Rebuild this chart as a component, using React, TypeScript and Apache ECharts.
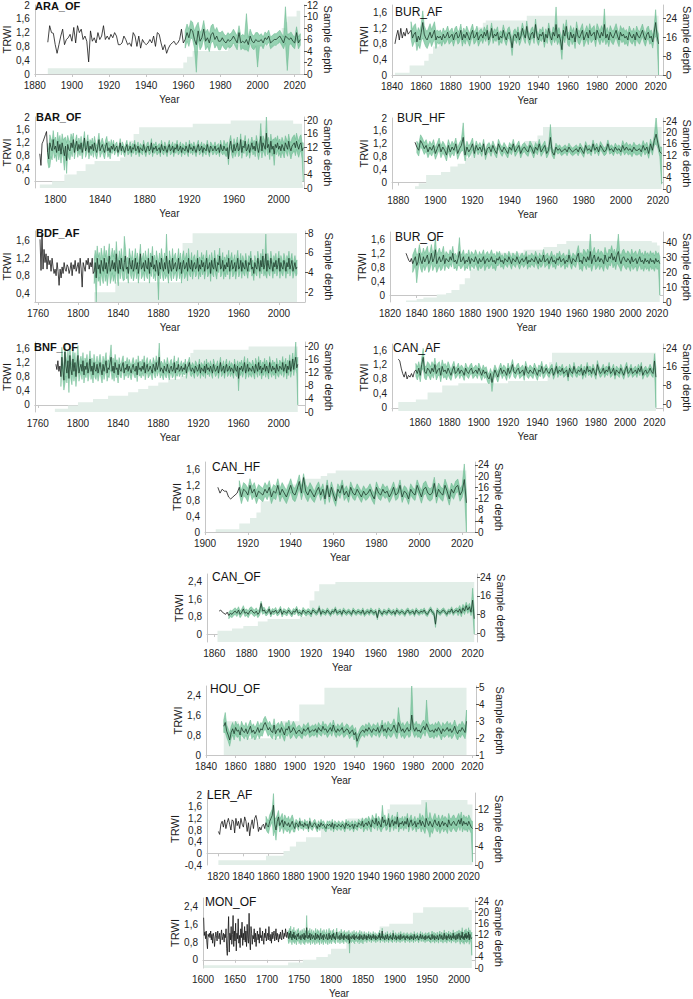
import React, { useEffect, useRef } from 'react';
import * as echarts from 'echarts';

// ---------------- DATA (TRWI x100, half-widths x100, sample depth) ----------------
const ARA_START = 1887;
const ARA_MEAN = [92,140,120,118,85,60,85,110,130,85,100,105,115,95,135,90,140,120,130,100,110,95,35,125,95,105,90,120,100,110,140,100,110,100,115,105,120,110,85,85,90,110,100,85,90,80,120,110,80,110,75,100,90,85,90,100,90,110,80,120,115,90,70,85,60,75,85,90,95,85,90,100,130,90,100,120,105,130,125,100,85,125,95,105,130,95,105,90,115,120,100,110,95,95,105,95,90,100,95,100,110,100,90,120,90,95,90,100,85,110,95,90,100,95,95,100,90,105,100,110,90,95,100,100,105,110,100,90,110,105,100,105,95,90,120,90,100];
const ARA_BAND_FROM = 1961;
const ARA_HALF = [[1961,25],[1981,20],[2001,17]];
const ARA_PEAKS = [[1967,5,140],[1994,70,175],[2000,20,120],[2015,90,195],[2016,10,115]];
const ARA_DEPTH = [[1887,1],[1960,2],[1962,3],[1965,4],[1984,5],[2011,6],[2013,8],[2015,9],[2016,10],[2021,11],[2023,11]];

const BURAF_START = 1842;
const BURAF_MEAN = [80,100,115,90,120,95,110,100,120,105,110,115,95,105,110,85,100,90,110,135,105,95,90,100,110,95,105,115,90,100,95,100,90,105,95,100,110,95,100,105,90,105,110,95,100,115,90,105,95,110,100,90,105,115,95,100,110,90,100,105,95,110,100,115,90,100,120,95,105,100,110,90,100,95,115,100,90,105,110,95,70,100,105,95,110,90,100,120,105,95,125,100,90,105,110,95,130,100,90,105,100,110,85,105,95,120,100,90,110,100,130,95,105,90,65,115,100,125,95,90,110,95,105,85,120,100,95,105,115,90,100,110,95,115,100,105,110,90,115,105,95,110,100,130,95,105,90,110,100,95,105,115,100,90,110,100,105,95,100,90,110,100,95,105,90,110,100,95,105,115,100,90,105,110,95,100,85,110,135,100,80];
const BURAF_BAND_FROM = 1853;
const BURAF_HALF = [[1853,22],[1871,16],[1901,14],[1951,17],[2001,16]];
const BURAF_PEAKS = [[1861,95,165],[1922,50,90],[1952,95,175],[1956,40,95],[1985,95,170],[2020,100,168],[2022,0,105]];
const BURAF_DEPTH = [[1842,1],[1852,4],[1862,6],[1865,9],[1868,12],[1872,14],[1875,16],[1880,17],[1890,18],[1898,20],[1902,22],[1904,23],[1932,25],[2022,25]];

const BAR_START = 1786;
const BAR_MEAN = [86,50,117,125,135,145,155,90,70,120,105,95,130,100,110,90,125,95,115,85,120,100,80,110,65,115,100,95,120,105,130,90,110,125,95,115,100,120,90,110,135,95,105,125,90,110,100,115,95,120,100,90,110,130,95,105,115,100,90,110,120,95,105,90,110,100,115,95,105,110,90,100,120,95,110,100,90,105,115,95,100,110,90,105,100,115,95,100,110,90,105,100,95,115,100,90,105,110,95,100,120,90,105,100,110,95,100,105,90,115,100,95,110,100,90,105,115,95,100,110,90,105,100,115,95,100,110,90,105,100,95,110,100,90,115,100,105,95,110,100,90,105,115,95,100,110,90,105,100,95,115,100,90,110,105,95,100,110,95,100,105,90,115,100,95,110,100,95,105,70,110,125,100,90,115,95,105,120,95,100,130,90,110,105,125,95,100,115,90,105,120,100,110,95,125,105,90,110,140,95,120,110,100,150,105,115,90,125,100,110,85,115,105,120,100,110,95,115,105,95,120,110,100,125,105,95,110,115,120,105,125,110,100,115,120,95,105];
const BAR_BAND_FROM = 1793;
const BAR_HALF = [[1793,28],[1816,20],[1851,13],[1951,18],[1981,22],[2011,25]];
const BAR_PEAKS = [[1795,45,145],[1808,35,135],[1810,25,120],[1984,100,180],[1989,110,205],[1996,50,130],[2022,0,120]];
const BAR_DEPTH = [[1786,1],[1797,2],[1808,4],[1819,5],[1827,7],[1835,8],[1858,9],[1862,11],[1866,14],[1870,16],[1875,18],[1923,19],[1957,20],[2013,19],[2021,1],[2022,1]];

const BURHF_START = 1889;
const BURHF_MEAN = [125,110,100,130,120,105,115,95,110,100,115,90,105,120,95,110,100,85,115,95,110,100,120,90,105,115,140,85,110,95,105,120,90,115,100,110,95,120,85,105,110,95,115,100,90,120,105,95,110,100,90,110,100,120,95,105,115,90,105,110,100,95,115,105,90,110,100,120,95,105,115,90,100,140,95,85,110,100,105,95,100,105,95,110,100,95,100,105,95,110,100,90,115,100,105,95,120,100,110,95,115,105,95,100,120,100,105,95,110,100,105,95,115,100,110,100,105,95,110,100,100,105,95,115,100,110,90,120,100,130,150,120,95,90];
const BURHF_BAND_FROM = 1890;
const BURHF_HALF = [[1890,18],[1921,14],[1961,12],[2001,15]];
const BURHF_PEAKS = [[1915,100,185],[1962,110,180],[2019,120,205],[2022,-5,110]];
const BURHF_DEPTH = [[1889,1],[1891,2],[1895,5],[1903,6],[1908,8],[1912,9],[1916,11],[1919,13],[1940,15],[1948,17],[1955,19],[1958,22],[2022,22]];

const BDF_START = 1762;
const BDF_MEAN = [163,92,175,95,140,110,130,95,125,105,115,90,120,100,85,95,80,110,90,58,95,75,100,85,110,95,90,105,100,85,95,110,80,105,95,115,90,100,110,85,120,95,54,110,100,90,115,105,120,95,110,100,120,85,90,110,75,120,95,105,85,115,100,90,120,95,110,85,105,125,90,100,115,95,110,90,130,100,85,115,95,120,100,90,110,125,95,100,85,120,105,95,115,90,100,120,95,110,85,105,130,95,100,110,90,115,100,95,120,85,110,100,125,95,105,90,115,100,80,110,95,120,100,90,110,95,125,100,85,115,100,90,120,95,105,110,90,100,120,95,110,85,105,115,95,100,110,90,120,100,95,115,90,105,110,95,100,120,90,105,95,115,100,110,90,105,120,95,100,110,85,115,100,95,120,100,90,110,105,125,95,100,115,90,105,95,110,100,120,90,105,115,95,100,110,90,105,120,95,100,115,90,110,100,95,115,100,90,110,105,120,95,100,85,110,100,95,120,105,90,115,100,125,95,105,130,90,115,100,95,120,105,90,110,100,115,95,105,120,90,110,100,95,115,105,90,110,100,120,95,105,115,90,100,110,95,100];
const BDF_BAND_FROM = 1816;
const BDF_HALF = [[1816,28],[1841,22],[1911,18],[1961,16]];
const BDF_PEAKS = [[1818,20,120],[1846,70,170],[1880,25,110],[1888,80,175],[1987,80,175]];
const BDF_DEPTH = [[1816,2],[1837,3],[1904,7],[1914,8],[2018,8]];

const BUROF_START = 1832;
const BUROF_MEAN = [120,110,100,95,105,90,100,110,85,95,120,100,90,110,95,105,115,90,100,120,95,105,130,90,100,110,95,100,115,90,105,100,95,110,100,120,95,100,90,105,125,95,100,110,90,100,95,110,90,105,100,95,110,100,90,105,95,100,110,90,100,105,95,100,110,95,100,90,105,100,110,95,100,90,105,100,95,110,100,90,105,100,95,110,100,90,100,105,95,100,110,90,100,95,105,100,95,110,100,90,105,95,100,115,95,100,105,90,100,110,95,100,90,105,100,110,95,100,105,90,100,95,115,100,90,105,100,95,110,120,95,100,90,110,105,95,110,100,125,90,105,115,95,100,110,95,105,100,90,115,100,95,110,105,120,100,110,95,115,125,100,90,105,110,100,95,105,100,90,110,95,100,105,90,100,110,95,100,90,105,95,100,90,105,95,100,90,105,95,100,90];
const BUROF_BAND_FROM = 1837;
const BUROF_HALF = [[1837,25],[1861,20],[1901,16],[1961,22]];
const BUROF_PEAKS = [[1840,35,115],[1854,85,165],[1872,85,165],[1970,85,175],[1991,85,175],[2022,0,110]];
const BUROF_DEPTH = [[1832,1],[1840,2],[1845,3],[1855,5],[1862,6],[1866,8],[1872,12],[1876,16],[1880,22],[1884,28],[1888,31],[1900,33],[1920,35],[1935,37],[1945,39],[1952,41],[2016,40],[2020,38],[2022,38]];

const BNF_START = 1778;
const BNF_MEAN = [115,100,125,95,110,80,135,100,70,150,110,90,125,75,140,100,85,130,95,120,80,110,140,90,105,115,95,125,85,110,100,120,90,105,130,95,110,85,120,100,95,115,90,105,120,100,85,115,95,110,125,90,105,100,120,135,95,110,90,120,100,105,85,115,100,95,110,120,90,105,100,115,95,110,100,90,105,115,100,95,110,85,120,100,105,95,110,100,120,90,105,115,95,100,110,100,90,115,105,95,120,100,110,135,95,105,100,90,110,100,95,115,100,90,105,110,95,100,120,90,105,100,115,95,100,110,95,105,100,115,90,105,110,120,100,95,105,100,90,110,105,95,100,115,90,105,100,95,110,90,115,100,105,95,110,100,90,115,105,95,100,110,90,105,120,95,100,110,90,105,115,95,100,110,95,105,100,90,115,100,95,110,75,105,100,110,95,105,120,90,100,115,95,105,100,95,110,100,90,115,105,95,120,100,110,90,105,100,115,95,110,100,90,120,105,95,110,100,105,90,115,100,95,110,105,100,120,95,105,115,90,110,100,125,95,110,130,100,120,135,105,115];
const BNF_BAND_FROM = 1783;
const BNF_HALF = [[1783,28],[1801,23],[1841,19],[1901,15],[1961,17]];
const BNF_PEAKS = [[1787,60,175],[1791,35,120],[1833,95,170],[1881,95,175],[1960,40,110],[2017,100,180],[2019,0,135]];
const BNF_DEPTH = [[1777,1],[1790,2],[1800,3],[1815,4],[1830,5],[1850,6],[1860,7],[1870,8],[1880,9],[1890,10],[1902,11],[1908,14],[1912,18],[1915,19],[1970,20],[2019,20]];

const CANAF_START = 1845;
const CANAF_MEAN = [135,130,110,95,85,100,80,90,85,95,85,100,105,95,110,90,120,140,100,95,110,105,95,110,100,120,95,105,110,90,115,100,105,95,110,100,90,105,115,95,100,110,95,105,100,90,110,100,95,105,110,95,100,105,95,110,100,90,105,95,100,85,80,95,70,90,105,95,85,100,110,95,105,100,90,110,95,105,120,100,95,105,110,95,100,105,90,115,100,95,105,100,95,110,100,90,105,100,115,95,100,110,100,95,105,110,90,100,115,95,105,100,110,95,100,105,85,110,100,95,115,100,95,105,100,110,90,105,95,115,100,105,95,110,100,90,120,105,95,100,110,95,105,100,115,95,100,110,90,105,100,95,110,100,90,105,115,95,100,110,95,100,105,95,110,100,115,90,100,105,95,100,110,100,95,130,85];
const CANAF_BAND_FROM = 1857;
const CANAF_HALF = [[1857,18],[1881,14],[1946,11]];
const CANAF_PEAKS = [[1862,110,165],[1909,45,95],[2020,110,150],[2021,0,110]];
const CANAF_DEPTH = [[1845,1],[1857,2],[1865,5],[1875,8],[1886,9],[1920,10],[1947,14],[1948,18],[1950,22],[2021,22]];

const CANHF_START = 1906;
const CANHF_MEAN = [115,100,110,105,105,90,85,90,95,100,115,90,110,105,95,120,100,110,90,105,100,95,110,100,115,90,105,100,120,95,110,100,90,105,120,100,95,110,130,100,140,105,95,110,100,90,105,115,95,110,85,120,90,115,95,80,110,100,120,95,105,90,115,100,95,110,100,90,105,95,100,110,95,85,115,100,95,110,100,105,90,100,115,95,100,120,90,105,100,85,110,100,95,120,105,90,110,115,100,95,100,125,90,110,100,95,120,105,85,110,100,115,120,95,105,135,75];
const CANHF_BAND_FROM = 1916;
const CANHF_HALF = [[1916,17],[1951,14],[2001,16]];
const CANHF_PEAKS = [[1946,105,150],[2021,110,175],[2022,0,100]];
const CANHF_DEPTH = [[1905,1],[1916,3],[1921,5],[1924,7],[1926,11],[1930,14],[1938,17],[1946,19],[1954,20],[1957,21],[1961,22],[2022,22]];

const CANOF_START = 1863;
const CANOF_MEAN = [105,110,100,95,90,100,85,95,90,100,105,95,110,90,100,115,95,100,90,105,110,100,95,105,90,100,140,105,110,95,100,115,90,105,100,110,95,100,115,90,105,100,95,110,100,90,105,100,115,95,100,90,110,100,95,105,100,90,110,105,95,100,120,90,105,100,95,110,100,90,105,100,115,95,100,105,90,110,100,95,105,100,90,110,100,95,105,100,95,110,90,100,105,95,110,100,95,105,75,110,100,90,105,100,95,110,100,95,105,90,110,100,95,105,100,90,105,110,95,100,105,90,110,100,95,105,100,110,95,90,105,115,100,95,45,110,100,95,105,110,100,90,105,100,115,95,105,110,100,115,95,120,105,130,110,125,100,155,70];
const CANOF_BAND_FROM = 1869;
const CANOF_HALF = [[1869,15],[1891,12],[1921,10],[2011,16]];
const CANOF_PEAKS = [[1889,110,150],[1997,30,70],[2020,110,210],[2021,0,110]];
const CANOF_DEPTH = [[1862,1],[1871,2],[1878,3],[1887,5],[1893,6],[1913,7],[1916,10],[1919,14],[1922,18],[1925,21],[1935,22],[2021,22]];

const HOU_START = 1852;
const HOU_MEAN = [115,130,95,80,60,90,105,85,110,95,100,80,110,95,90,105,85,100,115,90,100,85,95,110,90,105,100,120,130,115,100,110,95,90,120,85,100,105,90,110,95,80,105,100,115,90,95,110,100,85,95,100,90,85,105,95,100,110,90,95,100,95,105,90,110,100,95,115,100,105,90,100,110,95,120,100,90,105,95,100,110,90,95,105,100,85,95,100,80,90,55,70,85,95,100,90,105,95,110,100,90,105,100,95,110,90,100,120,95,105,90,110,100,95,105,120,100,90,130,115,95,105,90,100,110,95,100,160,110,95,110,95,100,90,105,115,100,125,110,95,95,100,90,105,95,110,100,85,105,95,100,110,95,105,90,100,115,95,85,100,95,110,100,90,135];
const HOU_BAND_FROM = 1852;
const HOU_HALF = [[1852,25],[1901,20],[1961,25]];
const HOU_PEAKS = [[1853,90,170],[1942,30,80],[1970,90,190],[1979,110,290],[1989,100,220],[2016,100,180]];
const HOU_DEPTH = [[1852,3],[1862,2],[1890,3],[1903,4],[1920,5],[2016,5]];

const LER_START = 1820;
const LER_MEAN = [75,65,100,110,90,115,85,105,120,100,80,115,110,70,120,95,110,85,120,100,90,125,110,75,105,60,95,115,85,120,130,110,75,90,80,95,100,85,105,95,90,110,120,130,165,100,80,110,125,95,105,115,90,110,100,95,105,90,100,110,95,85,105,100,90,110,95,100,90,105,95,100,85,110,95,90,100,105,95,85,100,90,105,95,100,90,85,100,95,100,90,105,85,100,95,90,100,95,90,100,95,85,105,95,100,90,95,100,85,100,95,90,105,100,95,110,90,100,105,95,110,100,90,115,105,100,120,95,110,100,90,125,105,115,95,100,120,90,105,115,95,110,100,125,90,105,100,110,95,110,100,120,90,105,115,95,100,110,90,105,100,115,95,110,100,90,120,105,95,110,100,90,105,115,100,95,110,90,100,110,95,105,100,90,115,100,95,105,110,100,95,105,115,100,120,95,110,100,105,95,110,100,90,85];
const LER_BAND_FROM = 1858;
const LER_HALF = [[1858,22],[1881,12],[1936,17],[1981,22]];
const LER_PEAKS = [[1864,60,205],[1866,45,120],[1951,85,165],[1986,90,175],[1989,55,140],[2023,-30,110]];
const LER_DEPTH = [[1820,1],[1858,2],[1872,3],[1877,4],[1882,5],[1890,6],[1902,8],[1912,9],[1923,10],[1955,12],[1957,13],[1982,14],[2019,13],[2023,13]];

const MON_START = 1601;
const MON_MEAN = [190,110,125,95,130,80,50,115,105,120,100,130,90,115,75,120,105,60,95,125,110,85,130,100,95,120,70,110,135,90,105,120,80,115,100,140,50,20,110,195,35,120,90,150,70,115,200,60,130,85,165,40,120,95,185,75,110,55,140,100,170,65,120,90,150,80,130,60,160,95,75,210,90,45,150,120,70,110,95,140,80,120,60,105,130,90,115,75,145,100,110,85,130,95,70,120,100,140,85,105,120,90,150,100,85,115,75,125,95,110,130,85,105,140,90,120,100,80,115,95,125,100,90,135,110,95,120,105,140,115,100,125,110,95,120,100,130,105,90,115,100,125,95,110,100,90,115,105,120,95,100,110,90,105,115,100,95,120,90,110,100,145,105,95,110,100,120,90,105,115,95,100,110,100,90,120,105,95,115,100,110,90,105,120,95,100,110,90,115,105,100,95,115,100,90,105,120,95,110,100,90,115,100,120,95,105,90,110,125,100,95,105,110,90,105,120,95,100,110,90,115,100,105,95,110,100,90,115,75,105,100,95,110,100,95,115,90,105,100,110,95,100,105,90,115,100,95,110,100,90,105,115,95,100,110,90,105,100,115,95,100,110,90,105,100,115,95,100,110,90,105,100,95,110,100,120,90,105,100,130,95,105,100,90,110,100,95,115,100,90,105,100,110,95,100,90,120,105,95,100,110,90,105,100,95,110,100,90,115,100,95,105,100,110,95,90,105,100,110,95,100,105,90,100,110,95,105,100,90,115,100,95,105,100,110,95,90,105,100,115,95,100,110,95,100,105,90,110,100,95,105,100,110,95,100,90,105,115,95,100,110,90,105,100,95,110,100,90,105,115,100,95,110,100,90,105,120,95,100,110,90,105,100,115,95,100,110,90,105,100,120,95,105,110,90,100,115,95,105,120,100,90,110,100,125,95,105,90,115,100,120,95,110,100,125,90,115,105,95,100];
const MON_BAND_FROM = 1733;
const MON_HALF = [[1733,22],[1801,18],[1851,13],[1951,15],[2001,20]];
const MON_PEAKS = [[1762,90,200],[1829,30,105],[2020,20,125]];
const MON_DEPTH = [[1601,1],[1733,2],[1756,3],[1777,4],[1795,5],[1800,7],[1824,9],[1845,11],[1876,15],[1891,16],[1928,20],[1944,22],[2015,21],[2020,21]];

// tick labels
const X_1880_20 = [1880,1900,1920,1940,1960,1980,2000,2020];
const X_1840_20 = [1840,1860,1880,1900,1920,1940,1960,1980,2000,2020];
const X_1800_40 = [1800,1840,1880,1920,1960,2000];
const X_1760_40 = [1760,1800,1840,1880,1920,1960,2000];
const X_1820_20 = [1820,1840,1860,1880,1900,1920,1940,1960,1980,2000,2020];
const X_1900_20 = [1900,1920,1940,1960,1980,2000,2020];
const X_1860_20 = [1860,1880,1900,1920,1940,1960,1980,2000,2020];
const X_1600_50 = [1600,1650,1700,1750,1800,1850,1900,1950,2000];
const YL_0_2 = [0,0.4,0.8,1.2,1.6,2];
const YL_0_16 = [0,0.4,0.8,1.2,1.6];
const YL_04_16 = [0.4,0.8,1.2,1.6];
const YL_0_24 = [0,0.8,1.6,2.4];
const YL_M04_2 = [-0.4,0,0.4,0.8,1.2,1.6,2];
const YR_12 = [0,2,4,6,8,10,12];
const YR_24_8 = [0,8,16,24];
const YR_20_4 = [0,4,8,12,16,20];
const YR_24_4 = [0,4,8,12,16,20,24];
const YR_8_2 = [2,4,6,8];
const YR_40_10 = [0,10,20,30,40];
const YR_5_1 = [1,2,3,4,5];
const YR_12_4 = [0,4,8,12];

// ---------------- LAYOUT ----------------
const PANELS = [
  { name: 'ARA_OF', bold: true, start: ARA_START, mean: ARA_MEAN, bandFrom: ARA_BAND_FROM, half: ARA_HALF, peaks: ARA_PEAKS, depth: ARA_DEPTH,
    box: [32, 4, 304, 74], x: [1880, 2025], xt: X_1880_20, yl: [0, 2], ylt: YL_0_2, yr: [0, 12], yrt: YR_12, title: [35, 6] },
  { name: 'BUR_AF', bold: false, start: BURAF_START, mean: BURAF_MEAN, bandFrom: BURAF_BAND_FROM, half: BURAF_HALF, peaks: BURAF_PEAKS, depth: BURAF_DEPTH,
    box: [392, 5, 665, 75], x: [1840, 2025], xt: X_1840_20, yl: [0, 1.8], ylt: YL_0_16, yr: [0, 29.5], yrt: YR_24_8, title: [395, 12] },
  { name: 'BAR_OF', bold: true, start: BAR_START, mean: BAR_MEAN, bandFrom: BAR_BAND_FROM, half: BAR_HALF, peaks: BAR_PEAKS, depth: BAR_DEPTH,
    box: [31, 117, 304, 188], x: [1781.5, 2022.7], xt: X_1800_40, yl: [-0.2, 2], ylt: YL_0_2, yr: [0, 21], yrt: YR_20_4, title: [36, 117] },
  { name: 'BUR_HF', bold: false, start: BURHF_START, mean: BURHF_MEAN, bandFrom: BURHF_BAND_FROM, half: BURHF_HALF, peaks: BURHF_PEAKS, depth: BURHF_DEPTH,
    box: [392, 118, 665, 189], x: [1876.6, 2022.7], xt: X_1880_20, yl: [-0.2, 2], ylt: YL_0_2, yr: [0, 25.2], yrt: YR_24_4, title: [397, 118] },
  { name: 'BDF_AF', bold: true, start: BDF_START, mean: BDF_MEAN, bandFrom: BDF_BAND_FROM, half: BDF_HALF, peaks: BDF_PEAKS, depth: BDF_DEPTH,
    box: [30, 231, 305, 302], x: [1756.8, 2026], xt: X_1760_40, yl: [0.2, 1.82], ylt: YL_04_16, yr: [1, 8.23], yrt: YR_8_2, title: [36, 233] },
  { name: 'BUR_OF', bold: false, start: BUROF_START, mean: BUROF_MEAN, bandFrom: BUROF_BAND_FROM, half: BUROF_HALF, peaks: BUROF_PEAKS, depth: BUROF_DEPTH,
    box: [390, 232, 664, 302], x: [1820, 2024.4], xt: X_1820_20, yl: [-0.2, 1.81], ylt: YL_0_16, yr: [0, 47], yrt: YR_40_10, title: [395, 237] },
  { name: 'BNF_OF', bold: true, start: BNF_START, mean: BNF_MEAN, bandFrom: BNF_BAND_FROM, half: BNF_HALF, peaks: BNF_PEAKS, depth: BNF_DEPTH,
    box: [30, 342, 305, 412], x: [1757, 2026.2], xt: X_1760_40, yl: [-0.2, 1.78], ylt: YL_0_16, yr: [0, 21.4], yrt: YR_20_4, title: [34, 347] },
  { name: 'CAN_AF', bold: false, start: CANAF_START, mean: CANAF_MEAN, bandFrom: CANAF_BAND_FROM, half: CANAF_HALF, peaks: CANAF_PEAKS, depth: CANAF_DEPTH,
    box: [392, 344, 665, 411], x: [1840.7, 2025.8], xt: X_1840_20, yl: [-0.09, 1.77], ylt: YL_0_16, yr: [-2.9, 25.8], yrt: YR_24_8, title: [393, 348] },
  { name: 'CAN_HF', bold: false, start: CANHF_START, mean: CANHF_MEAN, bandFrom: CANHF_BAND_FROM, half: CANHF_HALF, peaks: CANHF_PEAKS, depth: CANHF_DEPTH,
    box: [205, 462, 475, 532], x: [1900, 2026], xt: X_1900_20, yl: [0, 1.8], ylt: YL_0_16, yr: [0, 25], yrt: YR_24_4, title: [212, 467] },
  { name: 'CAN_OF', bold: false, start: CANOF_START, mean: CANOF_MEAN, bandFrom: CANOF_BAND_FROM, half: CANOF_HALF, peaks: CANOF_PEAKS, depth: CANOF_DEPTH,
    box: [207, 574, 477, 642], x: [1855.5, 2022.7], xt: X_1860_20, yl: [-0.365, 2.75], ylt: YL_0_24, yr: [-3.86, 25.4], yrt: YR_24_8, title: [212, 577] },
  { name: 'HOU_OF', bold: false, start: HOU_START, mean: HOU_MEAN, bandFrom: HOU_BAND_FROM, half: HOU_HALF, peaks: HOU_PEAKS, depth: HOU_DEPTH,
    box: [206, 686, 476, 755], x: [1840, 2022.4], xt: X_1840_20, yl: [0, 2.76], ylt: YL_0_24, yr: [1, 5.1], yrt: YR_5_1, title: [210, 689] },
  { name: 'LER_AF', bold: false, start: LER_START, mean: LER_MEAN, bandFrom: LER_BAND_FROM, half: LER_HALF, peaks: LER_PEAKS, depth: LER_DEPTH,
    box: [207, 793, 475, 865], x: [1810.9, 2025], xt: X_1820_20, yl: [-0.4, 2.07], ylt: YL_M04_2, yr: [0, 15.5], yrt: YR_12_4, title: [207, 795] },
  { name: 'MON_OF', bold: false, start: MON_START, mean: MON_MEAN, bandFrom: MON_BAND_FROM, half: MON_HALF, peaks: MON_PEAKS, depth: MON_DEPTH,
    box: [203, 898, 475, 968], x: [1600, 2025], xt: X_1600_50, yl: [-0.37, 2.79], ylt: YL_0_24, yr: [0, 25.3], yrt: YR_24_4, title: [205, 902] },
];

const FONT = "'Liberation Sans', Arial, Helvetica, sans-serif";
const AXIS_COLOR = '#c6c6c6';
const TEXT_COLOR = '#1e1e1e';
const DEPTH_COLOR = '#e2eee8';
const BAND_COLOR = 'rgba(100,188,142,0.68)';
const BAND_EDGE = '#66b78c';

function fmtLeft(v: number) {
  const r = Math.round(v);
  if (Math.abs(v - r) < 1e-6) return String(r);
  return v.toFixed(1).replace('.', ',');
}

function buildOption() {
  const grid: any[] = [];
  const xAxis: any[] = [];
  const yAxis: any[] = [];
  const series: any[] = [];
  const graphic: any[] = [];

  PANELS.forEach((p: any, i: number) => {
    const [l, t, r, b] = p.box;
    grid.push({ left: l, top: t, width: r - l, height: b - t, containLabel: false });
    xAxis.push({
      type: 'value', gridIndex: i, min: p.x[0], max: p.x[1],
      axisLine: { show: true, lineStyle: { color: AXIS_COLOR, width: 1 } },
      axisTick: { show: true, length: 3, lineStyle: { color: AXIS_COLOR }, customValues: p.xt },
      axisLabel: { customValues: p.xt, fontSize: 10, color: TEXT_COLOR, fontFamily: FONT, margin: 6, formatter: (v: number) => String(v) },
      splitLine: { show: false },
      name: 'Year', nameLocation: 'middle', nameGap: 20,
      nameTextStyle: { fontSize: 10, color: TEXT_COLOR, fontFamily: FONT },
    });
    yAxis.push({
      type: 'value', gridIndex: i, position: 'left', min: p.yl[0], max: p.yl[1],
      axisLine: { show: true, lineStyle: { color: AXIS_COLOR, width: 1 } },
      axisTick: { show: false, customValues: p.ylt },
      axisLabel: { customValues: p.ylt, fontSize: 10, color: TEXT_COLOR, fontFamily: FONT, margin: 5, formatter: fmtLeft },
      splitLine: { show: false },
      name: 'TRWI', nameLocation: 'middle', nameGap: 19, nameRotate: 90,
      nameTextStyle: { fontSize: 11, color: TEXT_COLOR, fontFamily: FONT },
    });
    yAxis.push({
      type: 'value', gridIndex: i, position: 'right', min: p.yr[0], max: p.yr[1],
      axisLine: { show: true, lineStyle: { color: AXIS_COLOR, width: 1 } },
      axisTick: { show: true, length: 3, lineStyle: { color: '#555' }, customValues: p.yrt },
      axisLabel: { customValues: p.yrt, fontSize: 10, color: TEXT_COLOR, fontFamily: FONT, margin: 3, formatter: (v: number) => String(Math.round(v)) },
      splitLine: { show: false },
      name: 'Sample depth', nameLocation: 'middle', nameGap: 18, nameRotate: -90,
      nameTextStyle: { fontSize: 11, color: TEXT_COLOR, fontFamily: FONT },
    });

    const halfAt = (y: number) => {
      let h = p.half[0][1];
      for (const [from, v] of p.half) if (y >= from) h = v;
      return h;
    };
    const peakMap: Record<number, number[]> = {};
    p.peaks.forEach((pk: number[]) => { peakMap[pk[0]] = [pk[1], pk[2]]; });

    const pre: number[][] = [];
    const inBand: number[][] = [];
    const lows: number[][] = [];
    const highs: number[][] = [];
    p.mean.forEach((v: number, k: number) => {
      const year = p.start + k;
      const m = v / 100;
      if (year <= p.bandFrom) pre.push([year, m]);
      if (year >= p.bandFrom) {
        inBand.push([year, m]);
        const h = halfAt(year) / 100;
        let lo = m - h, hi = m + h;
        if (peakMap[year]) { lo = peakMap[year][0] / 100; hi = peakMap[year][1] / 100; }
        lows.push([year, lo]);
        highs.push([year, hi]);
      }
    });

    series.push({
      type: 'line', xAxisIndex: i, yAxisIndex: 2 * i + 1, data: p.depth, step: 'end',
      symbol: 'none', silent: true, lineStyle: { width: 0 },
      areaStyle: { color: DEPTH_COLOR, opacity: 1, origin: 'start' }, z: 1,
    });
    series.push({
      type: 'custom', coordinateSystem: 'cartesian2d', xAxisIndex: i, yAxisIndex: 2 * i,
      data: [inBand[0]], silent: true, z: 2, clip: true,
      renderItem: (_params: any, api: any) => {
        const up = highs.map((d) => api.coord(d));
        const dn = lows.map((d) => api.coord(d)).reverse();
        return {
          type: 'polygon',
          shape: { points: up.concat(dn) },
          style: { fill: BAND_COLOR, stroke: BAND_EDGE, lineWidth: 0.5 },
        };
      },
    });
    if (pre.length > 1) {
      series.push({
        type: 'line', xAxisIndex: i, yAxisIndex: 2 * i, data: pre,
        symbol: 'none', silent: true, lineStyle: { width: 0.8, color: '#161616' }, z: 4,
      });
    }
    series.push({
      type: 'line', xAxisIndex: i, yAxisIndex: 2 * i, data: inBand,
      symbol: 'none', silent: true, lineStyle: { width: 0.8, color: '#1d3a2b' }, z: 4,
    });

    graphic.push({
      type: 'text', x: p.title[0], y: p.title[1], z: 10,
      style: {
        text: p.name, fill: '#111', verticalAlign: 'middle',
        font: (p.bold ? 'bold 11px ' : '12px ') + FONT,
      },
    });
  });

  return { animation: false, backgroundColor: '#ffffff', grid, xAxis, yAxis, series, graphic };
}

export default function App() {
  const ref = useRef<HTMLDivElement>(null);
  useEffect(() => {
    if (!ref.current) return;
    const chart = echarts.init(ref.current, undefined, { renderer: 'svg' });
    chart.setOption(buildOption() as any);
    return () => chart.dispose();
  }, []);
  return <div ref={ref} style={{ position: 'absolute', left: 0, top: 0, width: 693, height: 999 }} />;
}
